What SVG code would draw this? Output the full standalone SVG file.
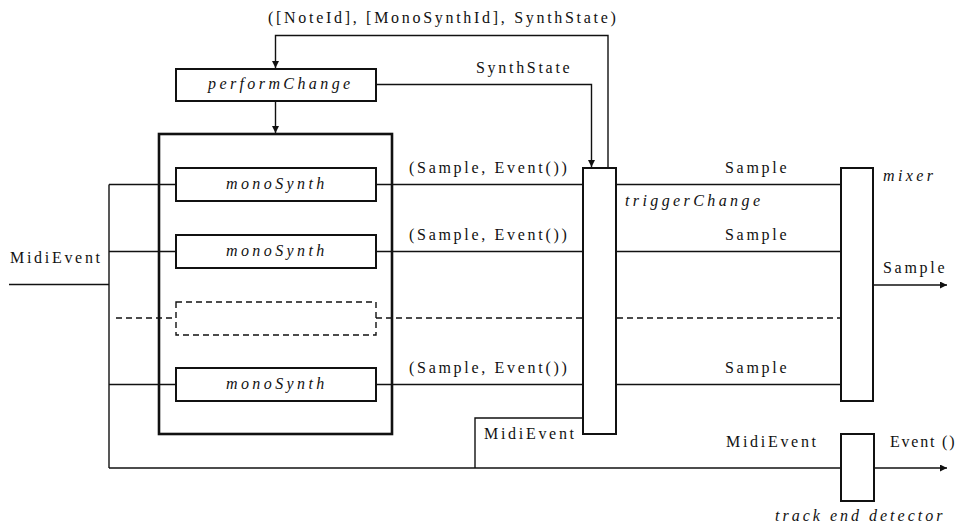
<svg xmlns="http://www.w3.org/2000/svg" width="963" height="527" viewBox="0 0 963 527">
<defs>
<marker id="ah" viewBox="0 0 10 10" refX="10" refY="5" markerWidth="7" markerHeight="7" markerUnits="userSpaceOnUse" orient="auto">
<path d="M0,0 L10,5 L0,10 Z" fill="#111"/>
</marker>
</defs>
<style>
.t{font-family:"Liberation Serif","Times New Roman",serif;font-size:16px;letter-spacing:2.7px;fill:#111}
.i{font-family:"Liberation Serif","Times New Roman",serif;font-size:16px;font-style:italic;letter-spacing:3.4px;fill:#111}
.box{fill:#fff;stroke:#111;stroke-width:2}
.cont{fill:none;stroke:#111;stroke-width:2.6}
.ln{fill:none;stroke:#111;stroke-width:1.4}
.dash{fill:none;stroke:#111;stroke-width:1.4;stroke-dasharray:6 4}
.arr{marker-end:url(#ah)}
</style>
<rect width="963" height="527" fill="#fff"/>
<g id="connectors">
<path class="ln arr" d="M608,168 V35.5 H275.5 V68"/>
<path class="ln arr" d="M376,84.5 H591.5 V167"/>
<path class="ln arr" d="M275.5,101 V133"/>
<path class="ln" d="M9,284.5 H109"/>
<path class="ln" d="M109,184.5 V468"/>
<path class="ln" d="M109,184.5 H176 M109,251.5 H176 M109,384.5 H176"/>
<path class="dash" d="M116,318 H176"/>
<path class="ln" d="M376,184.5 H583 M376,251.5 H583 M376,384.5 H583"/>
<path class="dash" d="M376,318 H583"/>
<path class="ln" d="M617,184.5 H841 M617,251.5 H841 M617,384.5 H841"/>
<path class="dash" d="M617,318 H841"/>
<path class="ln arr" d="M873,285 H947"/>
<path class="ln" d="M109,468 H841"/>
<path class="ln arr" d="M874,468 H947"/>
<path class="ln" d="M475,468 V418 H583"/>
</g>
<g id="container">
<rect class="cont" x="159" y="134" width="233" height="300"/>
</g>
<g id="performChange">
<rect class="box" x="176" y="69" width="200" height="32"/>
<text class="i" x="208" y="89">performChange</text>
</g>
<g id="monoSynth1">
<rect class="box" x="176" y="168" width="200" height="33"/>
<text class="i" x="226" y="189">monoSynth</text>
</g>
<g id="monoSynth2">
<rect class="box" x="176" y="235" width="200" height="33"/>
<text class="i" x="226" y="256">monoSynth</text>
</g>
<g id="monoSynthDashed">
<rect x="176" y="302" width="200" height="33" fill="#fff" stroke="#111" stroke-width="1.4" stroke-dasharray="6 4"/>
</g>
<g id="monoSynth4">
<rect class="box" x="176" y="368" width="200" height="33"/>
<text class="i" x="226" y="389">monoSynth</text>
</g>
<g id="triggerChange">
<rect class="box" x="583" y="168" width="33" height="266"/>
<text class="i" x="625" y="206">triggerChange</text>
</g>
<g id="mixer">
<rect class="box" x="841" y="168" width="32" height="233"/>
<text class="i" x="883" y="181">mixer</text>
</g>
<g id="trackEndDetector">
<rect class="box" x="841" y="434" width="33" height="67"/>
<text class="i" x="775" y="521" style="letter-spacing:3px">track end detector</text>
</g>
<g id="labels">
<text class="t" x="268" y="23">([NoteId], [MonoSynthId], SynthState)</text>
<text class="t" x="476" y="73">SynthState</text>
<text class="t" x="10" y="263">MidiEvent</text>
<text class="t" x="409" y="173">(Sample, Event())</text>
<text class="t" x="409" y="240">(Sample, Event())</text>
<text class="t" x="409" y="373">(Sample, Event())</text>
<text class="t" x="725" y="173">Sample</text>
<text class="t" x="725" y="240">Sample</text>
<text class="t" x="725" y="373">Sample</text>
<text class="t" x="883" y="273">Sample</text>
<text class="t" x="484" y="439">MidiEvent</text>
<text class="t" x="726" y="447">MidiEvent</text>
<text class="t" x="890" y="447" style="letter-spacing:1.8px">Event ()</text>
</g>
</svg>
